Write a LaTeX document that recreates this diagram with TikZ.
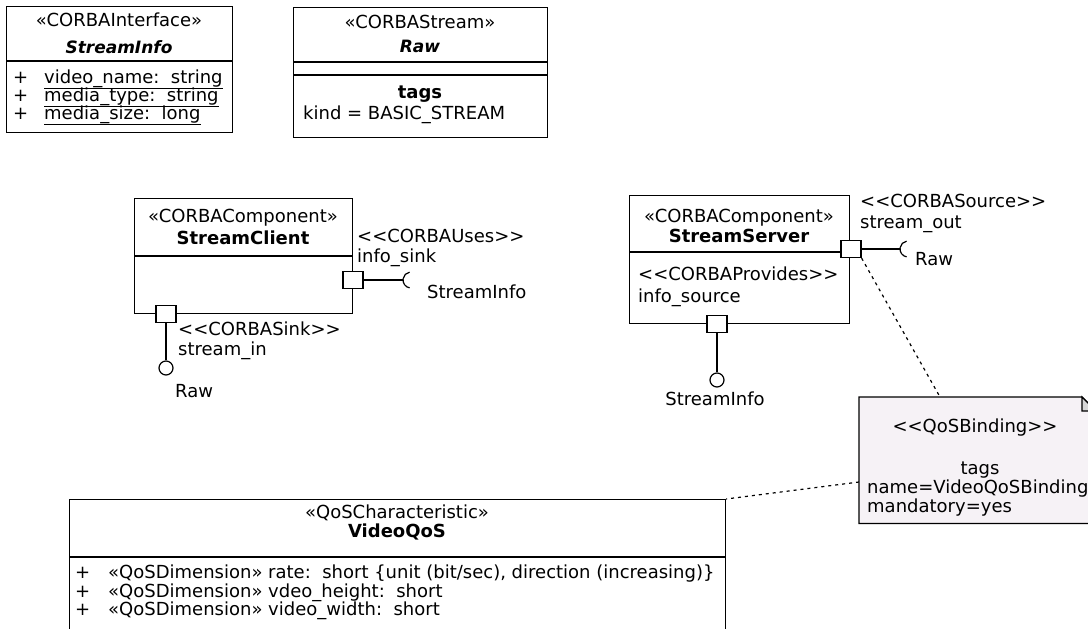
\documentclass[tikz,border=0pt]{standalone}
\usepackage{fontspec}
\setmainfont{DejaVu Sans}
\newcommand\lgl{<\kern0pt<}
\newcommand\rgr{>\kern0pt>}
\definecolor{notefill}{RGB}{246,242,246}
\definecolor{foldfill}{RGB}{215,215,215}
\begin{document}
\begin{tikzpicture}[x=1pt,y=-1pt,
  box/.style={draw, line width=1.2pt, fill=white, inner sep=0pt, anchor=north west},
  lbl/.style={inner sep=0pt, font=\fontsize{18}{20}\selectfont},
  bold/.style={inner sep=0pt, font=\fontsize{18}{20}\selectfont\bfseries},
  bolditalic/.style={inner sep=0pt, font=\fontsize{17}{20}\selectfont\bfseries\itshape},
  port/.style={draw, line width=1.2pt, fill=white, minimum width=20pt, minimum height=17pt, inner sep=0pt},
  ball/.style={draw, line width=1.2pt, circle, minimum size=14pt, inner sep=0pt},
  wire/.style={line width=1.2pt},
  dep/.style={line width=1.2pt, dash pattern=on 3pt off 4pt}]
\useasboundingbox (0,0) rectangle (1088,629);
\clip (0,0) rectangle (1088,629);

% StreamInfo interface
\node[box, minimum width=226pt, minimum height=126pt] (si) at (6,6) {};
\draw[wire] (si.west |- 0,61) -- (si.east |- 0,61);
\node[lbl, anchor=base] (siS) at (119,27) {«CORBAInterface»};
\node[bolditalic, anchor=base] (siN) at (119,53) {StreamInfo};
\node[lbl, anchor=base west] (siP1) at (13,83) {+};
\node[lbl, anchor=base west] (siP2) at (13,101) {+};
\node[lbl, anchor=base west] (siP3) at (13,119) {+};
\node[lbl, anchor=base west] (siA1) at (44,83) {\underline{video\_name:\ \ string}};
\node[lbl, anchor=base west] (siA2) at (44,101) {\underline{media\_type:\ \ string}};
\node[lbl, anchor=base west] (siA3) at (44,119) {\underline{media\_size:\ \ long}};

% Raw stream
\node[box, minimum width=254pt, minimum height=130pt] (raw) at (293,7) {};
\draw[wire] (raw.west |- 0,62) -- (raw.east |- 0,62);
\draw[wire] (raw.west |- 0,75) -- (raw.east |- 0,75);
\node[lbl, anchor=base] (rawS) at (420,28) {«CORBAStream»};
\node[bolditalic, anchor=base] (rawN) at (420,52) {Raw};
\node[bold, anchor=base] (rawT) at (420,98) {tags};
\node[lbl, anchor=base west] (rawK) at (303,119) {kind = BASIC\_STREAM};

% StreamClient component
\node[box, minimum width=218pt, minimum height=115pt] (sc) at (134,198) {};
\draw[wire] (sc.west |- 0,256) -- (sc.east |- 0,256);
\node[lbl, anchor=base] (scS) at (243,222) {«CORBAComponent»};
\node[bold, anchor=base] (scN) at (243,244) {StreamClient};
\node[port] (pc1) at (353,280) {};
\coordinate (sock1) at (403,280);
\coordinate (sock1c) at (411,280);
\draw[wire] (pc1.east) -- (sock1);
\draw[wire] (sock1c) ++(100:8) arc[start angle=100, end angle=260, radius=8];
\node[lbl, anchor=base west] (pc1S) at (357,242) {\lgl CORBAUses\rgr};
\node[lbl, anchor=base west] (pc1N) at (357,262) {info\_sink};
\node[lbl, anchor=base west] (pc1I) at (427,298) {StreamInfo};
\node[port] (pc2) at (166,314) {};
\node[ball] (bc2) at (166,368) {};
\draw[wire] (pc2.south) -- (bc2.north);
\node[lbl, anchor=base west] (pc2S) at (178,335) {\lgl CORBASink\rgr};
\node[lbl, anchor=base west] (pc2N) at (178,355) {stream\_in};
\node[lbl, anchor=base west] (pc2I) at (175,397) {Raw};

% StreamServer component
\node[box, minimum width=220pt, minimum height=128pt] (ss) at (629,195) {};
\draw[wire] (ss.west |- 0,252) -- (ss.east |- 0,252);
\node[lbl, anchor=base] (ssS) at (739,222) {«CORBAComponent»};
\node[bold, anchor=base] (ssN) at (739,242) {StreamServer};
\node[lbl, anchor=base west] (ssP) at (638,280) {\lgl CORBAProvides\rgr};
\node[lbl, anchor=base west] (ssPN) at (638,302) {info\_source};
\node[port] (ps1) at (851,249) {};
\coordinate (sock2) at (900,249);
\coordinate (sock2c) at (908,249);
\draw[wire] (ps1.east) -- (sock2);
\draw[wire] (sock2c) ++(100:8) arc[start angle=100, end angle=260, radius=8];
\node[lbl, anchor=base west] (ps1I) at (915,265) {Raw};
\node[lbl, anchor=base west] (ps1S) at (860,207) {\lgl CORBASource\rgr};
\node[lbl, anchor=base west] (ps1N) at (860,228) {stream\_out};
\node[port] (ps2) at (717,324) {};
\node[ball] (bs2) at (717,380) {};
\draw[wire] (ps2.south) -- (bs2.north);
\node[lbl, anchor=base] (ps2I) at (715,405) {StreamInfo};

% VideoQoS characteristic
\node[box, minimum width=656pt, minimum height=140pt] (vq) at (69,499) {};
\draw[wire] (vq.west |- 0,557) -- (vq.east |- 0,557);
\node[lbl, anchor=base] (vqS) at (397,518) {«QoSCharacteristic»};
\node[bold, anchor=base] (vqN) at (397,537) {VideoQoS};
\node[lbl, anchor=base west] (vqP1) at (75,578) {+};
\node[lbl, anchor=base west] (vqP2) at (75,597) {+};
\node[lbl, anchor=base west] (vqP3) at (75,615) {+};
\node[lbl, anchor=base west] (vqA1) at (108,578) {«QoSDimension» rate:\ \ short \{unit (bit/sec), direction (increasing)\}};
\node[lbl, anchor=base west] (vqA2) at (108,597) {«QoSDimension» vdeo\_height:\ \ short};
\node[lbl, anchor=base west] (vqA3) at (108,615) {«QoSDimension» video\_width:\ \ short};

% QoSBinding note
\node[inner sep=0pt, anchor=north west, minimum width=237pt, minimum height=126pt] (note) at (859,397) {};
\coordinate (noteT) at (940,397);
\coordinate (noteL) at (859,482);
\draw[dep] (ps1.south east) -- (noteT);
\draw[dep] (noteL) -- (vq.north east);
\draw[line width=1.2pt, fill=notefill] (note.north west) -- (1082,397) -- (1096,411) -- (note.south east) -- (note.south west) -- cycle;
\draw[line width=1.1pt, fill=foldfill] (1082,397) -- (1082,411) -- (1096,411) -- cycle;
\node[lbl, anchor=base] (noteS) at (975,432) {\lgl QoSBinding\rgr};
\node[lbl, anchor=base] (noteT1) at (980,474) {tags};
\node[lbl, anchor=base west] (noteT2) at (867,493) {name=VideoQoSBinding};
\node[lbl, anchor=base west] (noteT3) at (867,512) {mandatory=yes};
\end{tikzpicture}
\end{document}
